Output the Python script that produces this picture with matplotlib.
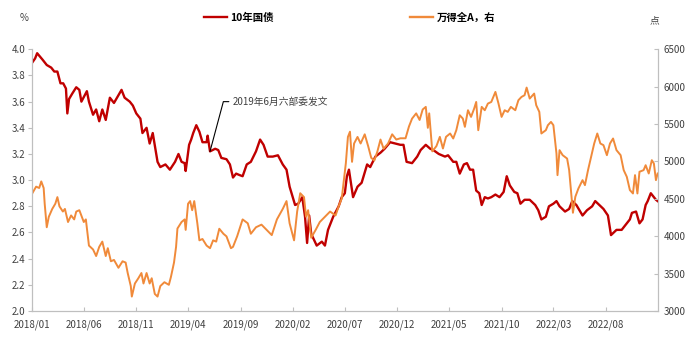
import matplotlib
matplotlib.use("Agg")
import matplotlib.pyplot as plt
import matplotlib.dates as mdates
import pandas as pd

plt.rcParams['font.family'] = ['Noto Sans CJK SC', 'DejaVu Sans']

# 10-year government bond yield (%)
bond_dates = [
    "2018-01-02", "2018-01-10", "2018-01-16", "2018-02-01", "2018-02-13", "2018-02-26",
    "2018-03-07", "2018-03-16", "2018-03-25", "2018-04-02", "2018-04-10", "2018-04-14",
    "2018-04-19", "2018-04-28", "2018-05-10", "2018-05-19", "2018-05-25", "2018-06-10",
    "2018-06-16", "2018-06-28", "2018-07-07", "2018-07-16", "2018-07-25", "2018-08-04",
    "2018-08-16", "2018-08-28", "2018-09-19", "2018-09-28", "2018-10-13", "2018-10-22",
    "2018-11-01", "2018-11-13", "2018-11-19", "2018-12-01", "2018-12-10", "2018-12-19",
    "2019-01-02", "2019-01-10", "2019-01-25", "2019-02-07", "2019-02-22", "2019-03-04",
    "2019-03-13", "2019-03-22", "2019-03-25", "2019-04-04", "2019-04-10", "2019-04-16",
    "2019-04-25", "2019-05-04", "2019-05-13", "2019-05-25", "2019-05-28", "2019-06-04",
    "2019-06-19", "2019-06-28", "2019-07-07", "2019-07-22", "2019-08-01", "2019-08-10",
    "2019-08-19", "2019-08-28", "2019-09-07", "2019-09-19", "2019-10-01", "2019-10-16",
    "2019-10-28", "2019-11-07", "2019-11-19", "2019-12-04", "2019-12-19", "2020-01-02",
    "2020-01-13", "2020-01-22", "2020-02-07", "2020-02-16", "2020-02-28", "2020-03-07",
    "2020-03-13", "2020-03-19", "2020-03-25", "2020-04-10", "2020-04-25", "2020-05-04",
    "2020-05-13", "2020-05-28", "2020-06-13", "2020-06-22", "2020-07-01", "2020-07-07",
    "2020-07-13", "2020-07-25", "2020-08-07", "2020-08-19", "2020-09-04", "2020-09-13",
    "2020-09-28", "2020-10-13", "2020-10-25", "2020-11-10", "2020-11-25", "2020-12-10",
    "2020-12-19", "2020-12-28", "2021-01-13", "2021-01-28", "2021-02-07", "2021-02-22",
    "2021-03-07", "2021-03-16", "2021-04-01", "2021-04-19", "2021-04-28", "2021-05-13",
    "2021-05-22", "2021-06-01", "2021-06-13", "2021-06-22", "2021-07-01", "2021-07-10",
    "2021-07-19", "2021-07-28", "2021-08-04", "2021-08-13", "2021-08-22", "2021-09-01",
    "2021-09-13", "2021-09-25", "2021-10-07", "2021-10-16", "2021-10-25", "2021-11-07",
    "2021-11-16", "2021-11-25", "2021-12-07", "2021-12-22", "2022-01-07", "2022-01-16",
    "2022-01-25", "2022-02-07", "2022-02-16", "2022-03-01", "2022-03-10", "2022-03-19",
    "2022-04-04", "2022-04-16", "2022-04-25", "2022-05-07", "2022-05-25", "2022-06-07",
    "2022-06-22", "2022-07-01", "2022-07-13", "2022-07-25", "2022-08-07", "2022-08-16",
    "2022-09-01", "2022-09-16", "2022-09-28", "2022-10-10", "2022-10-16", "2022-10-28",
    "2022-11-07", "2022-11-16", "2022-11-25", "2022-12-01", "2022-12-10", "2022-12-19",
    "2022-12-25", "2022-12-30",
]
bond_yield = [
    3.90, 3.93, 3.97, 3.92, 3.88, 3.86,
    3.83, 3.83, 3.74, 3.74, 3.70, 3.51,
    3.62, 3.66, 3.71, 3.69, 3.60, 3.68,
    3.60, 3.50, 3.54, 3.45, 3.54, 3.46,
    3.63, 3.59, 3.69, 3.63, 3.60, 3.57,
    3.51, 3.47, 3.36, 3.40, 3.28, 3.36,
    3.14, 3.10, 3.12, 3.08, 3.14, 3.20,
    3.14, 3.13, 3.07, 3.27, 3.31, 3.36,
    3.42, 3.37, 3.29, 3.29, 3.34, 3.22,
    3.24, 3.23, 3.17, 3.16, 3.12, 3.02,
    3.05, 3.04, 3.03, 3.12, 3.14, 3.22,
    3.31, 3.27, 3.18, 3.18, 3.19, 3.12,
    3.08, 2.95, 2.81, 2.82, 2.87, 2.72,
    2.52, 2.73, 2.59, 2.50, 2.53, 2.50,
    2.62, 2.72, 2.80, 2.87, 2.90, 3.03,
    3.08, 2.87, 2.95, 2.98, 3.12, 3.10,
    3.18, 3.21, 3.24, 3.29, 3.28, 3.27,
    3.27, 3.14, 3.13, 3.18, 3.23, 3.27,
    3.24, 3.23, 3.20, 3.18, 3.19, 3.14,
    3.14, 3.05, 3.12, 3.13, 3.08, 3.08,
    2.92, 2.90, 2.81, 2.87, 2.86, 2.87,
    2.89, 2.87, 2.91, 3.03, 2.96, 2.91,
    2.90, 2.82, 2.85, 2.85, 2.81, 2.77,
    2.70, 2.72, 2.80, 2.82, 2.84, 2.80,
    2.76, 2.78, 2.84, 2.81, 2.73, 2.77,
    2.80, 2.84, 2.81, 2.78, 2.73, 2.58,
    2.62, 2.62, 2.66, 2.70, 2.75, 2.76,
    2.67, 2.70, 2.81, 2.84, 2.90, 2.87,
    2.85, 2.84,
]

# Wind All A index (points, right axis)
index_dates = [
    "2018-01-02", "2018-01-13", "2018-01-22", "2018-01-28", "2018-02-04", "2018-02-07",
    "2018-02-13", "2018-02-19", "2018-03-01", "2018-03-10", "2018-03-16", "2018-03-22",
    "2018-04-01", "2018-04-07", "2018-04-16", "2018-04-25", "2018-05-04", "2018-05-10",
    "2018-05-19", "2018-06-01", "2018-06-07", "2018-06-16", "2018-06-28", "2018-07-07",
    "2018-07-16", "2018-07-25", "2018-08-04", "2018-08-10", "2018-08-19", "2018-08-28",
    "2018-09-10", "2018-09-22", "2018-10-01", "2018-10-07", "2018-10-16", "2018-10-19",
    "2018-10-28", "2018-11-07", "2018-11-16", "2018-11-22", "2018-12-01", "2018-12-10",
    "2018-12-16", "2018-12-25", "2019-01-02", "2019-01-10", "2019-01-22", "2019-02-04",
    "2019-02-10", "2019-02-19", "2019-02-25", "2019-03-01", "2019-03-13", "2019-03-22",
    "2019-03-25", "2019-04-01", "2019-04-07", "2019-04-13", "2019-04-19", "2019-04-28",
    "2019-05-04", "2019-05-13", "2019-05-25", "2019-06-04", "2019-06-13", "2019-06-22",
    "2019-07-01", "2019-07-13", "2019-07-22", "2019-08-04", "2019-08-10", "2019-08-22",
    "2019-09-07", "2019-09-22", "2019-10-01", "2019-10-16", "2019-11-01", "2019-11-16",
    "2019-12-01", "2019-12-16", "2020-01-02", "2020-01-13", "2020-01-22", "2020-02-04",
    "2020-02-13", "2020-02-22", "2020-03-04", "2020-03-10", "2020-03-16", "2020-03-25",
    "2020-04-07", "2020-04-19", "2020-05-04", "2020-05-19", "2020-06-04", "2020-06-13",
    "2020-06-22", "2020-07-04", "2020-07-10", "2020-07-16", "2020-07-22", "2020-07-28",
    "2020-08-07", "2020-08-16", "2020-08-28", "2020-09-07", "2020-09-16", "2020-09-25",
    "2020-10-04", "2020-10-13", "2020-10-22", "2020-11-04", "2020-11-16", "2020-11-28",
    "2020-12-10", "2020-12-25", "2021-01-04", "2021-01-13", "2021-01-25", "2021-02-04",
    "2021-02-13", "2021-02-22", "2021-02-28", "2021-03-04", "2021-03-13", "2021-03-25",
    "2021-04-04", "2021-04-13", "2021-04-22", "2021-05-04", "2021-05-13", "2021-05-22",
    "2021-06-01", "2021-06-10", "2021-06-16", "2021-06-25", "2021-07-04", "2021-07-13",
    "2021-07-19", "2021-07-25", "2021-08-04", "2021-08-13", "2021-08-22", "2021-09-01",
    "2021-09-13", "2021-09-22", "2021-10-01", "2021-10-10", "2021-10-19", "2021-10-28",
    "2021-11-10", "2021-11-19", "2021-11-28", "2021-12-07", "2021-12-13", "2021-12-22",
    "2022-01-04", "2022-01-10", "2022-01-19", "2022-01-25", "2022-02-07", "2022-02-13",
    "2022-02-22", "2022-03-01", "2022-03-10", "2022-03-13", "2022-03-19", "2022-03-28",
    "2022-04-10", "2022-04-16", "2022-04-22", "2022-04-27", "2022-05-04", "2022-05-13",
    "2022-05-25", "2022-06-01", "2022-06-10", "2022-06-19", "2022-06-28", "2022-07-07",
    "2022-07-16", "2022-07-25", "2022-08-04", "2022-08-13", "2022-08-22", "2022-09-01",
    "2022-09-13", "2022-09-22", "2022-10-01", "2022-10-10", "2022-10-19", "2022-10-25",
    "2022-11-01", "2022-11-07", "2022-11-19", "2022-11-25", "2022-12-04", "2022-12-13",
    "2022-12-19", "2022-12-25", "2022-12-30",
]
index_level = [
    4575, 4663, 4645, 4733, 4645, 4435,
    4120, 4260, 4365, 4435, 4523, 4400,
    4330, 4365, 4190, 4278, 4225, 4330,
    4348, 4190, 4225, 3875, 3823, 3735,
    3858, 3928, 3735, 3840, 3665, 3683,
    3578, 3665, 3648, 3508, 3333, 3193,
    3368, 3438, 3508, 3368, 3508, 3368,
    3438, 3228, 3193, 3333, 3385, 3350,
    3455, 3648, 3858, 4103, 4190, 4225,
    4085, 4435, 4470, 4348, 4470, 4173,
    3945, 3963, 3875, 3840, 3945, 3928,
    4100, 4033, 3998, 3840, 3858, 3998,
    4225, 4173, 4033, 4120, 4155, 4085,
    4015, 4225, 4365, 4470, 4173, 3945,
    4330, 4575, 4523, 4260, 4348, 3980,
    4085, 4190, 4260, 4330, 4278, 4400,
    4505, 4978, 5328, 5398, 4995, 5240,
    5328, 5240, 5363, 5205, 5048, 5013,
    5135, 5293, 5170, 5240, 5363, 5293,
    5310, 5310, 5468, 5573, 5643, 5555,
    5695, 5730, 5450, 5643, 5135, 5205,
    5329, 5173, 5329, 5374, 5307, 5418,
    5618, 5574, 5463, 5685, 5596, 5707,
    5796, 5418, 5730, 5685, 5774, 5796,
    5930, 5774, 5596, 5685, 5663, 5730,
    5685, 5819, 5863, 5886, 5988, 5841,
    5908, 5752, 5663, 5374, 5418, 5485,
    5529, 5485, 5106, 4817, 5151, 5084,
    5039, 4884, 4572, 4314, 4528, 4639,
    4750, 4683, 4884, 5061, 5240, 5374,
    5240, 5218, 5084, 5240, 5307, 5151,
    5084, 4884, 4795, 4617, 4572, 4817,
    4572, 4862, 4884, 4950, 4839, 5017,
    4973, 4750, 4839,
]

tick_dates = ["2018-01-01", "2018-06-01", "2018-11-01", "2019-04-01", "2019-09-01",
              "2020-02-01", "2020-07-01", "2020-12-01", "2021-05-01", "2021-10-01",
              "2022-03-01", "2022-08-01"]

bond_label = "10年国债"
index_label = "万得全A，右"
note_text = "2019年6月六部委发文"
note_date = "2019-06-04"
note_value = 3.22

RED = "#C00000"
ORANGE = "#F08A3A"
GRID_GREY = "#BFBFBF"
TEXT_GREY = "#404040"

fig = plt.figure(figsize=(7.0, 3.41), dpi=100)
ax = fig.add_axes([32 / 700, 1 - 311 / 341, (658 - 32) / 700, (311 - 49.3) / 341])
ax2 = ax.twinx()

bx = pd.to_datetime(bond_dates)
ix = pd.to_datetime(index_dates)
l1, = ax.plot(bx, bond_yield, color=RED, lw=1.7, label=bond_label, zorder=3)
l2, = ax2.plot(ix, index_level, color=ORANGE, lw=1.4, label=index_label, zorder=2)

ax.set_xlim(pd.Timestamp("2018-01-01"), pd.Timestamp("2022-12-31"))
ax.set_ylim(2.0, 4.0)
ax2.set_ylim(3000, 6500)
ax.set_yticks([2.0 + 0.2 * i for i in range(11)])
ax.set_yticklabels([f"{2.0 + 0.2 * i:.1f}" for i in range(11)])
ax2.set_yticks(range(3000, 6501, 500))

ax.set_xticks(pd.to_datetime(tick_dates))
ax.xaxis.set_major_formatter(mdates.DateFormatter("%Y/%m"))

for a in (ax, ax2):
    a.spines["top"].set_visible(False)
    for side in ("left", "right", "bottom"):
        a.spines[side].set_color(GRID_GREY)
        a.spines[side].set_linewidth(0.8)
ax.tick_params(axis="x", direction="in", length=3, color=GRID_GREY, labelsize=7,
               labelcolor=TEXT_GREY, pad=6)
ax.tick_params(axis="y", direction="out", length=3, color=GRID_GREY, labelsize=7,
               labelcolor=TEXT_GREY, pad=2)
ax2.tick_params(axis="y", direction="in", length=3, color=GRID_GREY, labelsize=7,
                labelcolor=TEXT_GREY, pad=4)

fig.text(24 / 700, 1 - 18 / 341, "%", fontsize=7, color=TEXT_GREY, ha="center", va="center")
fig.text(654 / 700, 1 - 20 / 341, "点", fontsize=7, color=TEXT_GREY, ha="center", va="center")

leg = fig.legend(handles=[l1, l2], loc="center", bbox_to_anchor=(0.499, 1 - 18 / 341),
                 ncol=2, frameon=False, handlelength=2.3, handletextpad=0.3,
                 columnspacing=13.0, prop={"size": 7.5, "weight": "bold"})
for line in leg.get_lines():
    line.set_linewidth(1.7)

ax.annotate(note_text, xy=(pd.Timestamp(note_date), note_value),
            xytext=(pd.Timestamp("2019-08-10"), 3.60),
            fontsize=7, color=TEXT_GREY, va="center", ha="left",
            arrowprops=dict(arrowstyle="-", color="#000000", lw=0.8,
                            connectionstyle="angle,angleA=0,angleB=75,rad=0",
                            shrinkA=1, shrinkB=0))

fig.savefig("out.png", dpi=100)
